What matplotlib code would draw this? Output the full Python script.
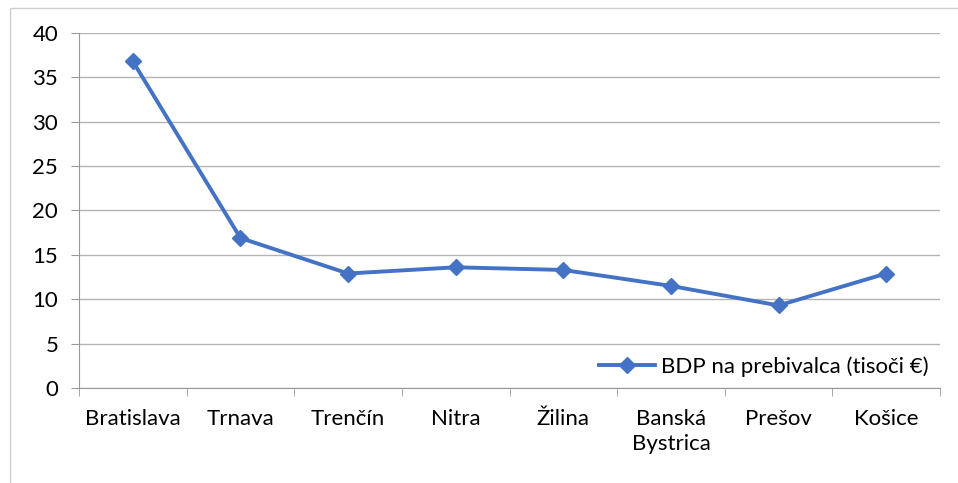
import matplotlib
matplotlib.use('Agg')
import matplotlib.pyplot as plt
from matplotlib.patches import Rectangle
import numpy as np

# Data
regions = ['Bratislava', 'Trnava', 'Trenčín', 'Nitra', 'Žilina',
           'Banská\nBystrica', 'Prešov', 'Košice']
bdp = [36.8, 16.9, 12.9, 13.6, 13.3, 11.5, 9.3, 12.9]
series_label = 'BDP na prebivalca (tisoči €)'

plt.rcParams['font.family'] = ['Lato', 'DejaVu Sans']

fig = plt.figure(figsize=(9.58, 4.83), dpi=100)
ax = fig.add_axes([0.0825, 0.1967, 0.8987, 0.735])

# outer chart frame (partly cropped in the reference)
fig.patches.append(Rectangle((10 / 958, -0.1), 1.2, 1 - 8 / 483 + 0.1,
                             transform=fig.transFigure, fill=False,
                             edgecolor='#cfcfcf', linewidth=1))

x = np.arange(len(regions))
ax.plot(x, bdp, color='#4472C4', linewidth=2.8, marker='D', markersize=8.5,
        label=series_label, zorder=3)

ax.set_xlim(-0.5, len(regions) - 0.5)
ax.set_ylim(0, 40)
ax.set_yticks(np.arange(0, 41, 5))
ax.yaxis.grid(True, color='#b3b3b3', linewidth=1)
ax.set_axisbelow(True)

ax.set_xticks(x)
ax.set_xticklabels(regions, fontsize=16, linespacing=1.3)
ax.set_xticks(np.arange(-0.5, len(regions)), minor=True)
ax.tick_params(axis='x', which='major', length=0, pad=15)
ax.tick_params(axis='x', which='minor', length=6, color='#999999')
ax.tick_params(axis='y', length=6, color='#999999', labelsize=16, pad=9)

for side in ['top', 'right']:
    ax.spines[side].set_visible(False)
for side in ['left', 'bottom']:
    ax.spines[side].set_color('#999999')

ax.legend(loc='lower right', frameon=False, fontsize=16,
          handlelength=2.5, handletextpad=0.3, borderaxespad=0.1,
          bbox_to_anchor=(1.0, 0.0))

fig.savefig('out.png', dpi=100)
